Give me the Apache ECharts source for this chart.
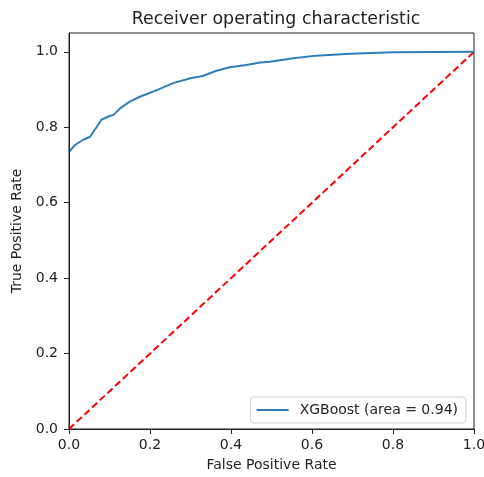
<!DOCTYPE html>
<html>
<head>
<meta charset="utf-8">
<script src="https://cdn.jsdelivr.net/npm/echarts@6/dist/echarts.min.js"></script>
<style>html,body{margin:0;padding:0;background:#fff}#c{width:484px;height:477px}</style>
</head>
<body>
<div id="c"></div>
<script>
const fpr = [0.0, 0.015, 0.035, 0.052, 0.068, 0.08, 0.10, 0.11, 0.126, 0.15, 0.175, 0.22, 0.257, 0.30, 0.33, 0.364, 0.397, 0.438, 0.472, 0.496, 0.554, 0.611, 0.694, 0.80, 1.0];
const tpr = [0.735, 0.753, 0.767, 0.775, 0.80, 0.82, 0.83, 0.833, 0.85, 0.868, 0.881, 0.90, 0.917, 0.93, 0.936, 0.95, 0.959, 0.965, 0.972, 0.974, 0.983, 0.990, 0.995, 0.999, 1.0];
const diagX = [0, 1];
const diagY = [0, 1];
const tickVals = [0, 0.2, 0.4, 0.6, 0.8, 1.0];
const seriesName = 'XGBoost (area = 0.94)';
const titleText = 'Receiver operating characteristic';

const chart = echarts.init(document.getElementById('c'), null, {renderer: 'canvas'});
const font = 'DejaVu Sans';
const axisCommon = {
  z: 5,
  axisLine: {show: true, lineStyle: {color: '#222', width: 1}},
  axisTick: {show: true, length: 5, lineStyle: {color: '#222'}, customValues: tickVals},
  splitLine: {show: false},
  axisLabel: {color: '#222', fontSize: 14, fontFamily: font, customValues: tickVals, formatter: v => v.toFixed(1)},
  nameLocation: 'middle',
  nameTextStyle: {color: '#222', fontSize: 14, fontFamily: font}
};
chart.setOption({
  animation: false,
  title: {text: titleText, left: 271, top: 6, textAlign: 'center',
    textStyle: {fontSize: 17.4, fontWeight: 'normal', color: '#222', fontFamily: font}},
  grid: {left: 69, right: 10, top: 33, bottom: 48, show: true, borderColor: '#222', borderWidth: 1,
    backgroundColor: 'transparent', outerBoundsMode: 'none', containLabel: false},
  xAxis: Object.assign({}, axisCommon, {type: 'value', min: 0, max: 1, name: 'False Positive Rate', nameGap: 29,
    axisLabel: Object.assign({}, axisCommon.axisLabel, {margin: 9})}),
  yAxis: Object.assign({}, axisCommon, {type: 'value', min: 0, max: 1.05, name: 'True Positive Rate', nameGap: 40,
    axisLabel: Object.assign({}, axisCommon.axisLabel, {margin: 11})}),
  legend: {
    data: [{name: seriesName, icon: 'rect'}],
    right: 18, bottom: 54, orient: 'vertical',
    itemWidth: 32, itemHeight: 2, itemGap: 8,
    padding: [6, 8, 6, 6],
    borderColor: '#ccc', borderWidth: 1, borderRadius: 3, backgroundColor: '#fff',
    textStyle: {fontSize: 14, fontFamily: font, color: '#222', padding: [0, 0, 0, 6]}
  },
  series: [
    {name: seriesName, type: 'line', data: fpr.map((x, i) => [x, tpr[i]]), showSymbol: false, symbol: 'none',
      lineStyle: {color: '#2c7fb8', width: 2}, itemStyle: {color: '#2c7fb8'}, z: 3},
    {name: 'diag', type: 'line', data: diagX.map((x, i) => [x, diagY[i]]), showSymbol: false, symbol: 'none',
      lineStyle: {color: '#ff0000', width: 2, type: [7, 3.5]}, z: 2}
  ]
});
</script>
</body>
</html>
